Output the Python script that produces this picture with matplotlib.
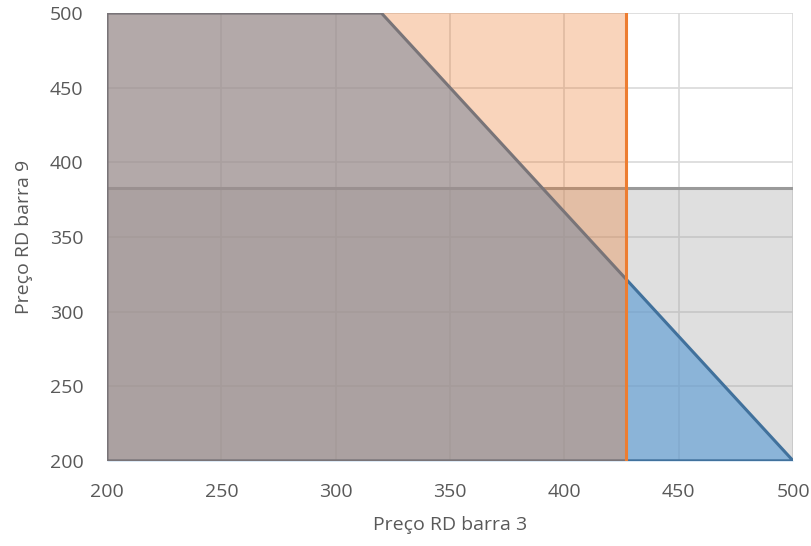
import matplotlib
matplotlib.use("Agg")
import matplotlib.pyplot as plt
import numpy as np

plt.rcParams['font.family'] = ['Open Sans', 'DejaVu Sans']

# Feasible region boundary (blue): price at bar 9 as a function of price at bar 3
frontier_x = [200, 320, 500]
frontier_y = [500, 500, 200]

# Upper limit on bar 3 price (orange) and on bar 9 price (gray)
limit_bar3 = 427
limit_bar9 = 383

x_min, x_max = 200, 500
y_min, y_max = 200, 500
ticks = [200, 250, 300, 350, 400, 450, 500]

fig = plt.figure(figsize=(8.11, 5.46), dpi=100)
ax = fig.add_axes([0.132, 0.156, 0.846, 0.820])

# gray: bar 9 limit region
ax.fill_between([x_min, x_max], y_min, limit_bar9, color='#A5A5A5', alpha=0.35,
                linewidth=0, zorder=2)
ax.plot([x_min, x_max], [limit_bar9, limit_bar9], color='#9a9a9a', lw=2.2, zorder=2.1)

# blue: frontier region
ax.fill_between(frontier_x, y_min, frontier_y, color='#5B9BD5', alpha=0.63,
                linewidth=0, zorder=3)
ax.plot([frontier_x[0]] + frontier_x + [frontier_x[-1], frontier_x[0]],
        [y_min] + frontier_y + [y_min, y_min],
        color='#41719C', lw=2.2, zorder=3.1, solid_joinstyle='miter')

# orange: bar 3 limit region
ax.fill_between([x_min, limit_bar3], y_min, y_max, color='#ED7D31', alpha=0.33,
                linewidth=0, zorder=4)
ax.plot([limit_bar3, limit_bar3], [y_min, y_max], color='#ED7D31', lw=2.2, zorder=4.1)

ax.set_xlim(x_min, x_max)
ax.set_ylim(y_min, y_max)
ax.set_xticks(ticks)
ax.set_yticks(ticks)
ax.grid(True, color='#d9d9d9', lw=1.2, zorder=1)
ax.set_axisbelow(True)
for s in ax.spines.values():
    s.set_visible(False)
ax.tick_params(length=0, labelsize=14, colors='#595959')
ax.tick_params(axis='y', pad=17)
ax.tick_params(axis='x', pad=16)

ax.set_xlabel('Preço RD barra 3', fontsize=14, color='#595959', labelpad=11)
ax.set_ylabel('Preço RD barra 9', fontsize=14, color='#595959', labelpad=12)

fig.savefig('out.png', dpi=100)
